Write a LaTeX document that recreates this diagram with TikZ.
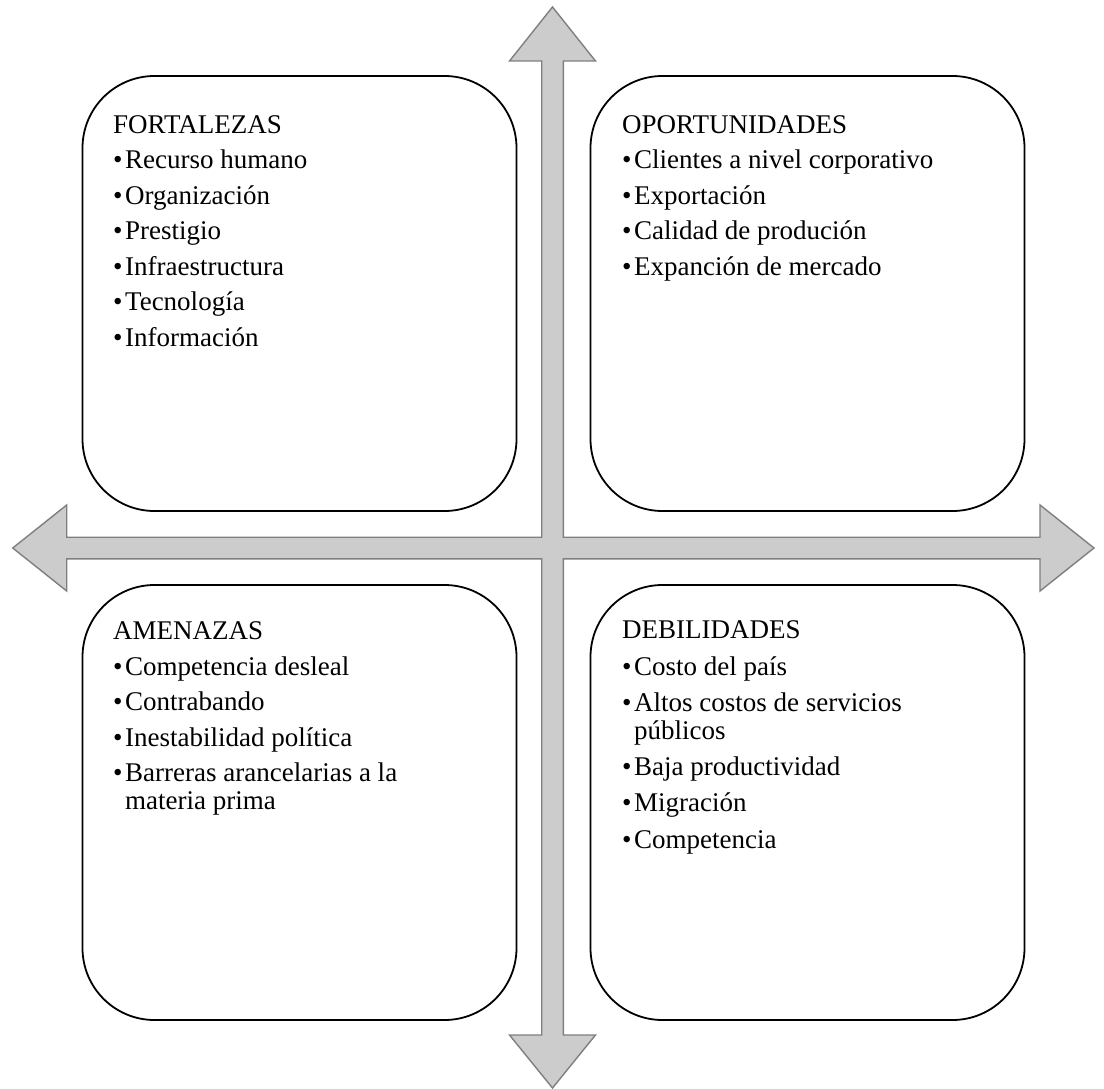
\documentclass[tikz,border=0pt]{standalone}
\usepackage{fontspec}
\setmainfont{Liberation Serif}
\definecolor{arrowfill}{HTML}{CCCCCC}
\definecolor{arrowline}{HTML}{7F7F7F}
\tikzset{
  quadbox/.style={draw=black, line width=1.8pt, rounded corners=72pt, fill=white,
    minimum width=434pt, minimum height=435pt, inner sep=0pt},
  listtext/.style={anchor=north west, inner sep=0pt,
    font=\fontsize{27}{35.5}\selectfont},
  widelist/.style={listtext, font=\fontsize{27}{36.3}\selectfont},
  crossarrow/.style={fill=arrowfill, draw=arrowline, line width=1.4pt, line join=miter}
}
\newcommand{\itemlist}[1]{\begin{tabular}{@{}l@{\hspace{2.5pt}}l@{}}#1\end{tabular}}
\begin{document}
\begin{tikzpicture}[x=1pt,y=-1pt]
\useasboundingbox (0,0) rectangle (1104,1089);
% cross with four arrow heads
\draw[crossarrow]
  (552.5,7) -- (595.5,61) -- (563.3,61) -- (563.3,537.2) -- (1040,537.2) -- (1040,505)
  -- (1094,548) -- (1040,591) -- (1040,558.8) -- (563.3,558.8) -- (563.3,1035)
  -- (595.5,1035) -- (552.5,1088) -- (509.5,1035) -- (541.7,1035) -- (541.7,558.8)
  -- (66.7,558.8) -- (66.7,591) -- (12.7,548) -- (66.7,505) -- (66.7,537.2)
  -- (541.7,537.2) -- (541.7,61) -- (509.5,61) -- cycle;
% boxes
\node[quadbox] (fbox) at (299.5,293.5) {};
\node[quadbox] (obox) at (807.5,293.5) {};
\node[quadbox] (abox) at (299.5,802.5) {};
\node[quadbox] (dbox) at (807.5,802.5) {};
% texts
\node[listtext] (ftext) at (113,108.2) {\itemlist{%
  \multicolumn{2}{@{}l@{}}{FORTALEZAS}\\
  •&Recurso humano\\
  •&Organización\\
  •&Prestigio\\
  •&Infraestructura\\
  •&Tecnología\\
  •&Información}};
\node[listtext] (otext) at (622,108.2) {\itemlist{%
  \multicolumn{2}{@{}l@{}}{OPORTUNIDADES}\\
  •&Clientes a nivel corporativo\\
  •&Exportación\\
  •&Calidad de produción\\
  •&Expanción de mercado}};
\node[listtext] (atext) at (113,614.5) {\itemlist{%
  \multicolumn{2}{@{}l@{}}{AMENAZAS}\\
  •&Competencia desleal\\
  •&Contrabando\\
  •&Inestabilidad política\\
  •&Barreras arancelarias a la\\[-8pt]
  &materia prima}};
\node[widelist] (dtext) at (622,613.2) {\itemlist{%
  \multicolumn{2}{@{}l@{}}{DEBILIDADES}\\
  •&Costo del país\\
  •&Altos costos de servicios\\[-8.5pt]
  &públicos\\
  •&Baja productividad\\
  •&Migración\\
  •&Competencia}};
\end{tikzpicture}
\end{document}
